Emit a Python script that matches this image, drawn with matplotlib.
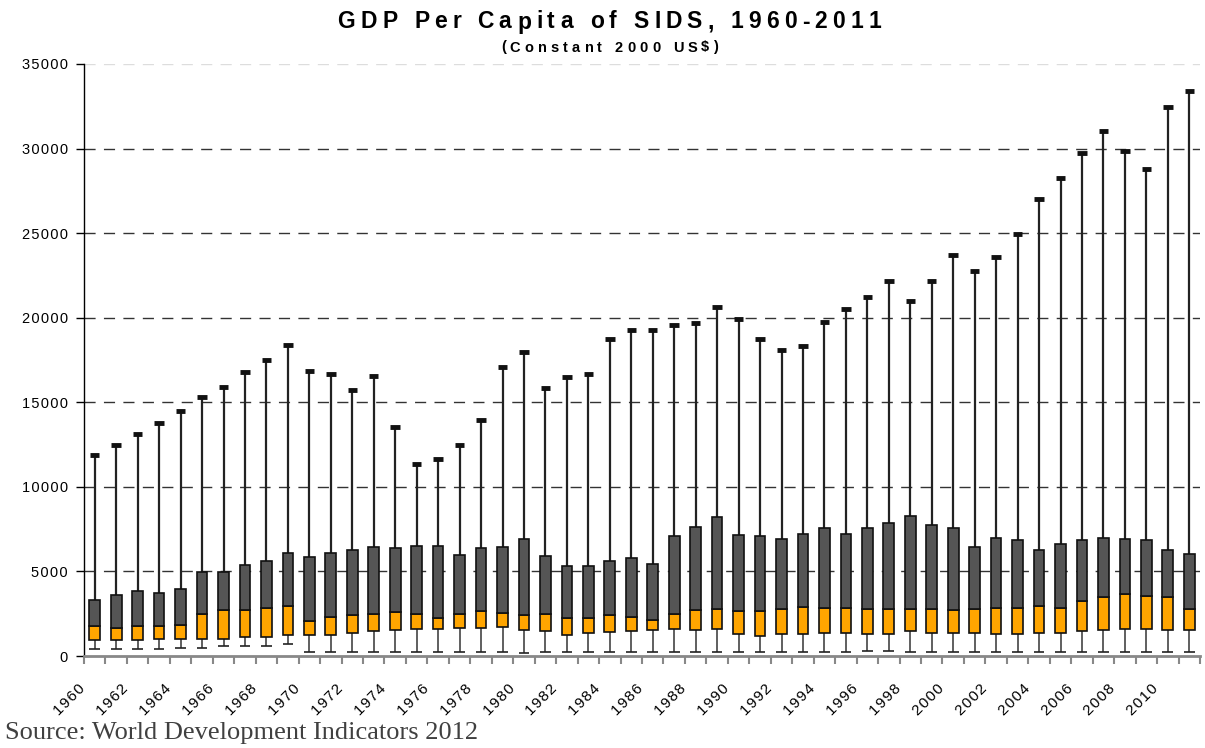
import numpy as np
import matplotlib
matplotlib.use("Agg")
import matplotlib.pyplot as plt
import matplotlib.transforms as mtrans
from matplotlib.font_manager import FontProperties, findfont
from matplotlib.ft2font import FT2Font

years = list(range(1960, 2012))

# whisker ends (min / max)
lo = [440, 440, 440, 440, 490, 490, 570, 570, 570, 690,
      220, 220, 220, 220, 220, 220, 220, 220, 220, 220,
      160, 220, 220, 220, 220, 220, 220, 220, 220, 220,
      220, 220, 220, 220, 220, 220, 280, 280, 220, 220,
      220, 220, 220, 220, 220, 220, 220, 220, 220, 220,
      220, 220]
hi = [11900, 12500, 13100, 13750, 14500, 15300, 15900, 16800, 17500, 18400,
      16850, 16700, 15700, 16550, 13550, 11350, 11650, 12450, 13960, 17100,
      17950, 15850, 16500, 16700, 18750, 19250, 19250, 19550, 19700, 20650,
      19950, 18750, 18100, 18330, 19730, 20500, 21200, 22200, 21000, 22180,
      23730, 22780, 23560, 24930, 27000, 28270, 29720, 31040, 29880, 28820,
      32460, 33380]

# box: lower quartile, median, upper quartile
q1 = [950, 950, 950, 1030, 1030, 1030, 1030, 1140, 1140, 1220,
      1220, 1220, 1340, 1480, 1520, 1600, 1600, 1660, 1660, 1720,
      1520, 1460, 1260, 1340, 1400, 1460, 1520, 1580, 1520, 1580,
      1280, 1200, 1280, 1280, 1340, 1380, 1320, 1320, 1460, 1380,
      1380, 1380, 1320, 1320, 1380, 1380, 1460, 1520, 1580, 1580,
      1520, 1520]
med = [1780, 1680, 1760, 1780, 1830, 2490, 2740, 2740, 2860, 2980,
       2090, 2290, 2430, 2490, 2600, 2490, 2270, 2490, 2660, 2560,
       2450, 2490, 2270, 2270, 2430, 2330, 2150, 2490, 2720, 2780,
       2660, 2660, 2780, 2920, 2860, 2860, 2800, 2800, 2800, 2800,
       2740, 2800, 2860, 2860, 2940, 2860, 3250, 3510, 3690, 3570,
       3510, 2800]
q3 = [3290, 3630, 3830, 3750, 3950, 4990, 4990, 5390, 5620, 6080,
      5840, 6080, 6270, 6430, 6390, 6530, 6530, 5960, 6390, 6430,
      6920, 5900, 5310, 5310, 5620, 5780, 5420, 7080, 7630, 8200,
      7160, 7080, 6920, 7240, 7550, 7240, 7550, 7890, 8260, 7770,
      7550, 6470, 7000, 6840, 6250, 6650, 6840, 7000, 6900, 6840,
      6250, 6020]

x = np.arange(len(years))
lo, hi, q1, med, q3 = map(np.array, (lo, hi, q1, med, q3))

W, H = 1205, 748
fig = plt.figure(figsize=(W / 100, H / 100), dpi=100)
ax = fig.add_axes([84 / W, 92 / H, 1116 / W, 592 / H])

# grid
for g in range(5000, 35000, 5000):
    ax.axhline(g, color="#333333", lw=1, ls=(0, (8, 6)), zorder=0)
ax.axhline(35000, color="#dddddd", lw=1, ls=(0, (8, 6)), zorder=0)

# whiskers and caps
ax.vlines(x, q3, hi, color="#222222", lw=1.6, zorder=1)
ax.vlines(x, lo, q1, color="#444444", lw=1.2, zorder=1)
ax.hlines(hi, x - 0.22, x + 0.22, color="#111111", lw=3.5, zorder=2)
ax.hlines(lo, x - 0.25, x + 0.25, color="#222222", lw=1.2, zorder=2)

# boxes
ax.bar(x, med - q1, bottom=q1, width=0.5, color="#ffa500",
       edgecolor="#111111", lw=1.2, zorder=3)
ax.bar(x, q3 - med, bottom=med, width=0.5, color="#555555",
       edgecolor="#111111", lw=1.2, zorder=3)

ax.set_xlim(-0.5, len(years) - 0.5)
ax.set_ylim(0, 35000)

hair = "\u200a"
ax.set_yticks(range(0, 35001, 5000))
ax.set_yticklabels([hair.join(str(v)) for v in range(0, 35001, 5000)],
                   fontsize=10.5, fontfamily="Liberation Sans")
ax.tick_params(axis="y", length=6, width=1, pad=5.5)

# ticks between categories, labels every second year
ax.set_xticks(np.arange(-0.5, len(years), 1.0))
ax.set_xticklabels([])
ax.tick_params(axis="x", which="major", length=6, width=1.5, color="#888888")
ax.set_xticks(x[::2], minor=True)
ax.set_xticklabels([hair.join(str(y)) for y in years[::2]], minor=True,
                   rotation=45, ha="right", rotation_mode="anchor",
                   fontsize=11, fontfamily="Liberation Sans")
ax.tick_params(axis="x", which="minor", length=0, pad=18.5)
shift = mtrans.ScaledTranslation(-0.165, 0, fig.dpi_scale_trans)
for lab in ax.get_xticklabels(minor=True):
    lab.set_transform(lab.get_transform() + shift)

for s in ("top", "right"):
    ax.spines[s].set_visible(False)
ax.spines["left"].set_linewidth(1)
ax.spines["bottom"].set_color("#888888")
ax.spines["bottom"].set_linewidth(2)


def tracked(s, xc, base, size, width):
    # bold text with wide letter spacing, centred at xc, total width in px
    fp = FontProperties(family="Liberation Sans", weight="bold")
    ft = FT2Font(findfont(fp))
    ft.set_size(size, 100)
    glyphs = [ft.load_char(ord(c)) for c in s]
    adv = [g.linearHoriAdvance / 65536 for g in glyphs]
    track = (width - sum(adv)) / (len(s) - 1)
    x0 = xc - width / 2
    for c, g, a in zip(s, glyphs, adv):
        if c != " ":
            fig.text((x0 + g.horiBearingX / 64) / W, 1 - base / H, c,
                     fontproperties=fp, size=size, ha="left", va="baseline")
        x0 += a + track


tracked("GDP Per Capita of SIDS, 1960-2011", 608, 28.5, 16.5, 544)
tracked("(Constant 2000 US$)", 609, 51.5, 10.5, 218)

fig.text(5 / W, 1 - 739 / H, "Source: World Development Indicators 2012",
         ha="left", va="baseline", fontsize=19, color="#404040",
         family="Liberation Serif")

fig.savefig("out.png", dpi=100)
